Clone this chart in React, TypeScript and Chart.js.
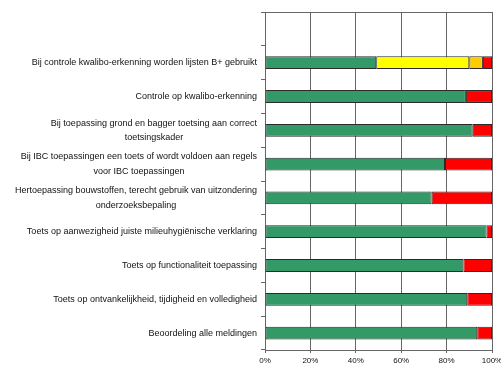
import React, { useEffect, useRef } from "react";
import { Chart, registerables } from "chart.js";

Chart.register(...registerables);

const categories: string[][] = [
  [""],
  ["Bij controle kwalibo-erkenning worden lijsten B+ gebruikt"],
  ["Controle op kwalibo-erkenning"],
  ["Bij toepassing grond en bagger toetsing aan correct", "toetsingskader"],
  ["Bij IBC toepassingen een toets of wordt voldoen aan regels", "voor IBC toepassingen"],
  ["Hertoepassing bouwstoffen, terecht gebruik van uitzondering", "onderzoeksbepaling"],
  ["Toets op aanwezigheid juiste milieuhygiënische verklaring"],
  ["Toets op functionaliteit toepassing"],
  ["Toets op ontvankelijkheid, tijdigheid en volledigheid"],
  ["Beoordeling alle meldingen"],
];

const greenValues: (number | null)[] = [null, 49, 88.5, 91.5, 79.3, 73.4, 97.6, 87.4, 89.1, 93.5];
const yellowValues: (number | null)[] = [null, 41, null, null, null, null, null, null, null, null];
const orangeValues: (number | null)[] = [null, 6, null, null, null, null, null, null, null, null];
const redValues: (number | null)[] = [null, 4, 11.5, 8.5, 20.7, 26.6, 2.4, 12.6, 10.9, 6.5];

const xTicks: number[] = [0, 20, 40, 60, 80, 100];

const FONT = "'Liberation Sans', Arial, sans-serif";
const GRID = "#666666";

const labelPlugin = {
  id: "customLabels",
  afterDraw(chart: any) {
    const ctx = chart.ctx;
    const yScale = chart.scales.y;
    const area = chart.chartArea;
    ctx.save();
    ctx.strokeStyle = GRID;
    ctx.lineWidth = 1;
    ctx.beginPath();
    ctx.moveTo(area.left, area.top + 0.5);
    ctx.lineTo(area.right, area.top + 0.5);
    ctx.stroke();
    ctx.font = `9px ${FONT}`;
    ctx.fillStyle = "#111";
    ctx.textBaseline = "middle";
    ctx.textAlign = "center";
    const xRight = 257;
    const lineH = 14.5;
    categories.forEach((lines, i) => {
      const y = yScale.getPixelForValue(i);
      const maxW = Math.max(...lines.map((l) => ctx.measureText(l).width));
      const cx = xRight - maxW / 2;
      const y0 = y - ((lines.length - 1) * lineH) / 2;
      lines.forEach((l, j) => ctx.fillText(l, cx, y0 + j * lineH));
    });
    ctx.restore();
  },
};

export default function App() {
  const ref = useRef<HTMLCanvasElement>(null);
  useEffect(() => {
    if (!ref.current) return;
    const common = { borderColor: "#2a2a2a", borderWidth: 1, borderSkipped: false, barPercentage: 0.38, categoryPercentage: 1 };
    const chart = new Chart(ref.current, {
      type: "bar",
      data: {
        labels: categories.map((c) => c.join(" ")),
        datasets: [
          { label: "groen", data: greenValues, backgroundColor: "#339966", ...common },
          { label: "geel", data: yellowValues, backgroundColor: "#ffff00", ...common },
          { label: "oranje", data: orangeValues, backgroundColor: "#ffcc00", ...common },
          { label: "rood", data: redValues, backgroundColor: "#ff0000", ...common },
        ] as any,
      },
      options: {
        indexAxis: "y",
        animation: false,
        responsive: true,
        maintainAspectRatio: false,
        layout: { padding: { top: 12, right: 9, left: 0, bottom: 0 } },
        plugins: { legend: { display: false }, tooltip: { enabled: false } },
        scales: {
          x: {
            stacked: true,
            min: 0,
            max: 100,
            afterBuildTicks: (s: any) => {
              s.ticks = xTicks.map((v) => ({ value: v }));
            },
            afterFit: (s: any) => {
              s.height = 19;
              s.paddingLeft = 0;
              s.paddingRight = 0;
            },
            ticks: {
              callback: (v: any) => v + "%",
              font: { size: 8, family: FONT },
              color: "#111",
              padding: 3,
              maxRotation: 0,
            },
            grid: { color: GRID, lineWidth: 1, tickLength: 3 },
            border: { color: GRID, width: 1 },
          },
          y: {
            stacked: true,
            afterFit: (s: any) => {
              s.width = 265;
            },
            ticks: { display: false },
            grid: { drawOnChartArea: false, tickLength: 4, color: GRID, offset: true },
            border: { color: GRID, width: 1 },
          },
        },
      } as any,
      plugins: [labelPlugin],
    });
    return () => chart.destroy();
  }, []);
  return (
    <div style={{ position: "absolute", left: 0, top: 0, width: 501, height: 369, background: "#fff" }}>
      <canvas ref={ref} />
    </div>
  );
}
